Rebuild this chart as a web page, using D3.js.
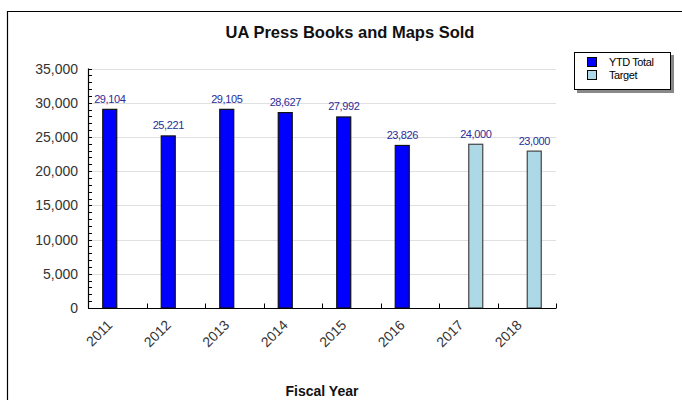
<!DOCTYPE html>
<html>
<head>
<meta charset="utf-8">
<script src="https://cdn.jsdelivr.net/npm/d3@7"></script>
<style>
  body { margin: 0; background: #fff; }
  text { font-family: "Liberation Sans", Arial, sans-serif; }
</style>
</head>
<body>
<div id="chart"></div>
<script>
// --- Data ---
const years = ["2011", "2012", "2013", "2014", "2015", "2016", "2017", "2018"];
const ytdTotal = [29104, 25221, 29105, 28627, 27992, 23826, null, null];
const target = [null, null, null, null, null, null, 24000, 23000];
const seriesNames = ["YTD Total", "Target"];
const seriesColors = ["#0000ff", "#add8e6"];
const yTicks = [0, 5000, 10000, 15000, 20000, 25000, 30000, 35000];

const W = 682, H = 400;
const margin = { left: 88, right: 126, top: 68.5, bottom: 92 };

const svg = d3.select('#chart').append('svg').attr('width', W).attr('height', H);

// outer frame
svg.append('path')
  .attr('d', `M7.5,${H} V11.5 H${W}`)
  .attr('fill', 'none').attr('stroke', '#000').attr('stroke-width', 1.2);

const x = d3.scaleBand().domain(years).range([margin.left, W - margin.right]);
const y = d3.scaleLinear().domain([0, 35000]).range([H - margin.bottom, margin.top]);
const barW = 15;

// gridlines
svg.append('g').selectAll('line')
  .data(yTicks.slice(1))
  .join('line')
  .attr('x1', margin.left).attr('x2', W - margin.right)
  .attr('y1', d => Math.round(y(d)) + 0.5).attr('y2', d => Math.round(y(d)) + 0.5)
  .attr('stroke', '#e0e0e0');

// minor ticks on y axis (pointing inward)
svg.append('g').selectAll('line')
  .data(d3.range(0, 35001, 1000))
  .join('line')
  .attr('x1', margin.left).attr('x2', margin.left + 4)
  .attr('y1', d => Math.round(y(d)) + 0.5).attr('y2', d => Math.round(y(d)) + 0.5)
  .attr('stroke', '#000');

// y tick labels
svg.append('g').selectAll('text')
  .data(yTicks)
  .join('text')
  .attr('x', margin.left - 10)
  .attr('y', d => y(d) + 5)
  .attr('text-anchor', 'end')
  .attr('font-size', 14)
  .attr('fill', '#333')
  .text(d3.format(','));

// bars
const series = [ytdTotal, target];
series.forEach((vals, si) => {
  const pts = years.map((yr, i) => ({ yr, v: vals[i] })).filter(d => d.v != null);
  const gS = svg.append('g');
  gS.selectAll('rect')
    .data(pts)
    .join('rect')
    .attr('x', d => x(d.yr) + x.bandwidth() / 2 - (si === 0 ? barW : 0) + 0.5)
    .attr('y', d => y(d.v) + 0.5)
    .attr('width', barW - 1)
    .attr('height', d => y(0) - y(d.v) - 0.5)
    .attr('fill', seriesColors[si])
    .attr('stroke', si === 0 ? '#111' : '#444')
    .attr('stroke-width', 1.2);
  gS.selectAll('text')
    .data(pts)
    .join('text')
    .attr('x', d => x(d.yr) + x.bandwidth() / 2 + (si === 0 ? -barW / 2 : barW / 2))
    .attr('y', d => y(d.v) - 6)
    .attr('text-anchor', 'middle')
    .attr('font-size', 11)
    .attr('letter-spacing', -0.4)
    .attr('fill', '#2b2b9a')
    .text(d => d3.format(',')(d.v));
});

// y axis line
svg.append('line')
  .attr('x1', margin.left + 0.5).attr('x2', margin.left + 0.5)
  .attr('y1', y(35000)).attr('y2', y(0))
  .attr('stroke', '#000').attr('stroke-width', 1.2);

// x axis line + ticks between categories
const x0 = Math.round(y(0)) + 0.5;
svg.append('line')
  .attr('x1', margin.left).attr('x2', W - margin.right)
  .attr('y1', x0).attr('y2', x0)
  .attr('stroke', '#000').attr('stroke-width', 1.2);
svg.append('g').selectAll('line')
  .data(years.slice(1).concat(['end']))
  .join('line')
  .attr('x1', (d, i) => Math.round(i < years.length - 1 ? x(d) : x.range()[1]) + 0.5)
  .attr('x2', (d, i) => Math.round(i < years.length - 1 ? x(d) : x.range()[1]) + 0.5)
  .attr('y1', x0).attr('y2', x0 - 5)
  .attr('stroke', '#000');

// x tick labels
svg.append('g').selectAll('text')
  .data(years)
  .join('text')
  .attr('transform', d => `translate(${x(d) + x.bandwidth() / 2 - 4},${y(0) + 18}) rotate(-45)`)
  .attr('text-anchor', 'end')
  .attr('font-size', 14)
  .attr('fill', '#333')
  .text(d => d);

// title
svg.append('text')
  .attr('x', 350).attr('y', 38)
  .attr('text-anchor', 'middle')
  .attr('font-size', 16.5)
  .attr('font-weight', 'bold')
  .attr('fill', '#111')
  .text('UA Press Books and Maps Sold');

// x axis title
svg.append('text')
  .attr('x', (margin.left + W - margin.right) / 2)
  .attr('y', 396)
  .attr('text-anchor', 'middle')
  .attr('font-size', 14)
  .attr('font-weight', 'bold')
  .attr('fill', '#111')
  .text('Fiscal Year');

// legend
const lg = svg.append('g').attr('transform', 'translate(574,52)');
lg.append('rect').attr('x', 3).attr('y', 3).attr('width', 97).attr('height', 38).attr('fill', '#888');
lg.append('rect').attr('x', 0.5).attr('y', 0.5).attr('width', 96).attr('height', 37)
  .attr('fill', '#fff').attr('stroke', '#000');
seriesNames.forEach((name, i) => {
  lg.append('rect')
    .attr('x', 13.5).attr('y', 5.5 + i * 13).attr('width', 9).attr('height', 9)
    .attr('fill', seriesColors[i]).attr('stroke', '#000');
  lg.append('text')
    .attr('x', 35).attr('y', 14 + i * 13)
    .attr('font-size', 11)
    .attr('letter-spacing', -0.4)
    .attr('fill', '#000')
    .text(name);
});
</script>
</body>
</html>
